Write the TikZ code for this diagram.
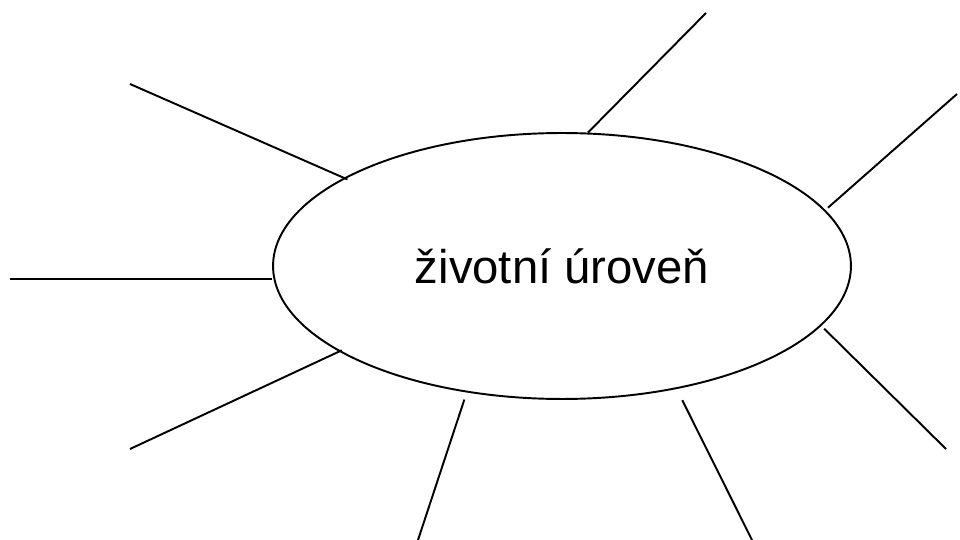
\documentclass[tikz,border=0pt]{standalone}
\usepackage{fontspec}
\setmainfont{Liberation Sans}
\usetikzlibrary{shapes.geometric}

\begin{document}
\begin{tikzpicture}[
        x=0.02cm, y=-0.02cm,
        every node/.style={font=\fontsize{26.9}{32}\selectfont},
        topic/.style={draw, ellipse, line width=1.1pt, minimum width=11.56cm, minimum height=5.32cm, inner sep=0pt},
        spoke/.style={draw, line width=1.1pt}
    ]
    \useasboundingbox (0,0) rectangle (960,540);

    % Central topic
    \node[topic] (level) at (562,266) {životní úroveň};

    % Free ends of the spokes
    \coordinate (s1) at (130,84);
    \coordinate (s2) at (10,279);
    \coordinate (s3) at (130,449);
    \coordinate (s4) at (418,540);
    \coordinate (s5) at (752,540);
    \coordinate (s6) at (946,449);
    \coordinate (s7) at (957,94);
    \coordinate (s8) at (706,13);

    % Spokes
    \draw[spoke, shorten <=-0.08cm] (level.158.8) -- (s1);
    \draw[spoke] (s2 -| level.west) -- (s2);
    \draw[spoke, shorten <=-0.06cm] (level.201.7) -- (s3);
    \draw[spoke, shorten <=0.15cm] (level.233.7) -- (s4);
    \draw[spoke, shorten <=0.25cm] (level.313.5) -- (s5);
    \draw[spoke, shorten <=0.08cm] (level.347.7) -- (s6);
    \draw[spoke, shorten <=0.07cm] (level.12.2) -- (s7);
    \draw[spoke] (level.79.3) -- (s8);

\end{tikzpicture}
\end{document}
